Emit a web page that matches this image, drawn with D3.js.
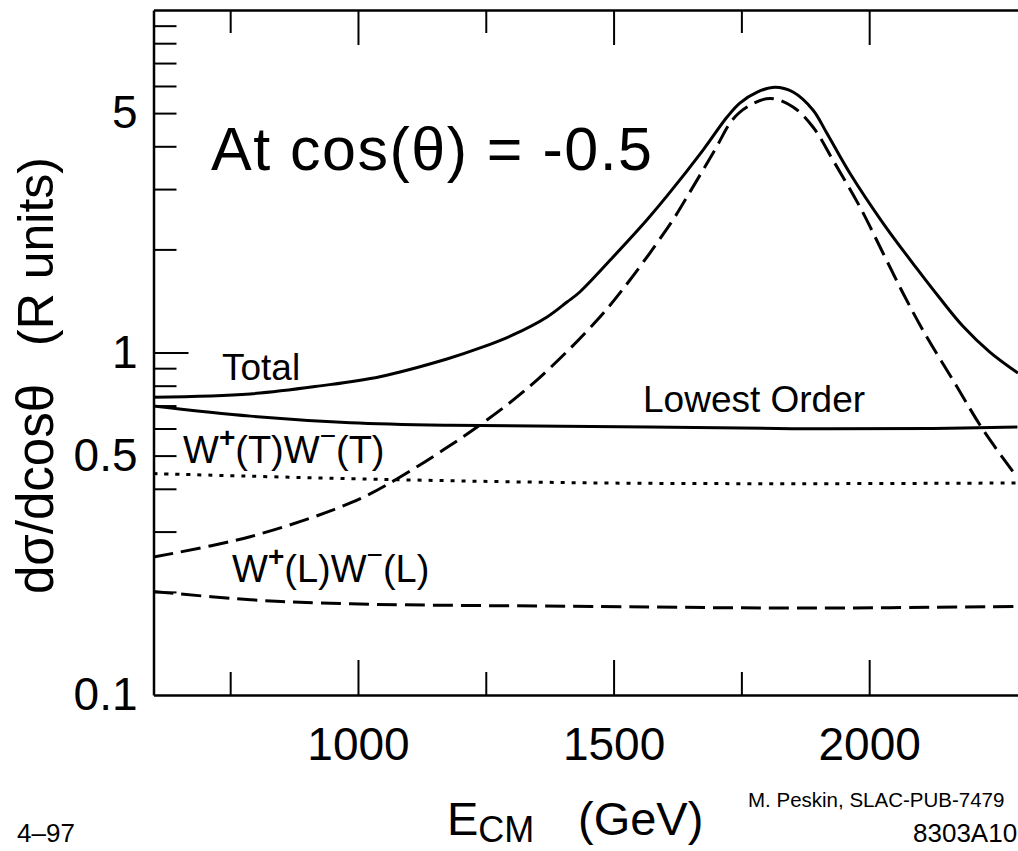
<!DOCTYPE html>
<html>
<head>
<meta charset="utf-8">
<script src="https://cdn.jsdelivr.net/npm/d3@7"></script>
<style>
  body { margin: 0; background: #fff; }
  svg { display: block; font-family: "Liberation Sans", Arial, Helvetica, sans-serif; }
</style>
</head>
<body>
<div id="chart"></div>
<script>
// Curves (E in GeV, dsigma/dcos in R units)
const totalE = [600, 789, 926, 1043, 1174, 1239, 1303, 1370, 1409, 1434, 1499, 1565, 1605, 1675, 1722, 1747, 1781, 1816, 1851, 1890, 1917, 1962, 2027, 2093, 2138, 2183, 2236, 2291];
const totalV = [0.740, 0.757, 0.799, 0.850, 0.957, 1.031, 1.125, 1.270, 1.404, 1.502, 1.900, 2.437, 2.87, 3.90, 4.87, 5.35, 5.76, 5.95, 5.76, 5.105, 4.375, 3.343, 2.388, 1.76, 1.442, 1.195, 1.003, 0.871];

const lowestE = [600, 790, 985, 1180, 1570, 1865, 2125, 2290];
const lowestV = [0.698, 0.652, 0.624, 0.613, 0.606, 0.599, 0.600, 0.606];

const ttE = [600, 1050, 1475, 1865, 2290];
const ttV = [0.443, 0.426, 0.416, 0.414, 0.416];

// W+(L)W-(L) with the resonance
const llPeakE = [600, 789, 984, 1076, 1244, 1350, 1468, 1532, 1616, 1640, 1698, 1732, 1761, 1806, 1851, 1890, 1929, 1982, 2027, 2066, 2105, 2172, 2223, 2289];
const llPeakV = [0.2529, 0.2899, 0.363, 0.4273, 0.6226, 0.8311, 1.244, 1.628, 2.437, 2.788, 3.90, 4.77, 5.21, 5.52, 5.21, 4.555, 3.648, 2.66, 1.952, 1.492, 1.163, 0.793, 0.594, 0.433];

// W+(L)W-(L) lowest order
const llLowE = [600, 790, 985, 1475, 1865, 2290];
const llLowV = [0.2005, 0.1897, 0.1846, 0.1813, 0.1794, 0.1813];

const xMajorTicks = [1000, 1500, 2000];
const xMinorTicks = [750, 1250, 1750];
const yMajorTicks = [1];
const yMinorTicks = [0.2, 0.3, 0.4, 0.5, 0.6, 0.7, 0.8, 0.9, 2, 3, 4, 5, 6, 7, 8, 9];
const yLabelTicks = [0.1, 0.5, 1, 5];
const yLabelText = ["0.1", "0.5", "1", "5"];

const width = 1018;
const height = 851;
const plotLeft = 153.5;
const plotTop = 10;
const plotBottom = 695;

const svg = d3
  .select("#chart")
  .append("svg")
  .attr("width", width)
  .attr("height", height);

svg.append("rect").attr("width", width).attr("height", height).attr("fill", "#fff");

const x = d3.scaleLinear().domain([600, 2300]).range([plotLeft, plotLeft + 1700 * 0.5112]);
const y = d3.scaleLog().domain([0.1, 10]).range([plotBottom, plotTop]);

const axisStyle = (g) => {
  g.selectAll("path").attr("stroke", "#000").attr("stroke-width", 2.5);
  g.selectAll("line").attr("stroke", "#000").attr("stroke-width", 2);
  g.attr("font-family", null).attr("font-size", 46).selectAll("text").attr("fill", "#000");
};

// Bottom axis: major ticks with labels, minor ticks without
svg
  .append("g")
  .attr("transform", `translate(0,${plotBottom})`)
  .call(d3.axisBottom(x).tickValues(xMajorTicks).tickSize(-35).tickSizeOuter(0).tickPadding(32).tickFormat(d3.format("d")))
  .call(axisStyle);

svg
  .append("g")
  .attr("transform", `translate(0,${plotBottom})`)
  .call(d3.axisBottom(x).tickValues(xMinorTicks).tickSize(-23).tickFormat(""))
  .call(axisStyle)
  .call((g) => g.select(".domain").remove());

// Top frame with inward ticks
svg
  .append("g")
  .attr("transform", `translate(0,${plotTop})`)
  .call(d3.axisTop(x).tickValues(xMajorTicks).tickSize(-35).tickSizeOuter(0).tickFormat(""))
  .call(axisStyle);

svg
  .append("g")
  .attr("transform", `translate(0,${plotTop})`)
  .call(d3.axisTop(x).tickValues(xMinorTicks).tickSize(-23).tickFormat(""))
  .call(axisStyle)
  .call((g) => g.select(".domain").remove());

// Left axis
svg
  .append("g")
  .attr("transform", `translate(${plotLeft},0)`)
  .call(d3.axisLeft(y).tickValues(yMajorTicks).tickSize(-35).tickSizeOuter(0).tickFormat(""))
  .call(axisStyle);

svg
  .append("g")
  .attr("transform", `translate(${plotLeft},0)`)
  .call(d3.axisLeft(y).tickValues(yMinorTicks).tickSize(-23).tickFormat(""))
  .call(axisStyle)
  .call((g) => g.select(".domain").remove());

svg
  .append("g")
  .attr("transform", `translate(${plotLeft},0)`)
  .call(d3.axisLeft(y).tickValues(yLabelTicks).tickSize(0).tickPadding(16).tickFormat((d, i) => yLabelText[i]))
  .call(axisStyle)
  .call((g) => g.select(".domain").remove());

// Curves
const line = d3
  .line()
  .x((d) => x(d[0]))
  .y((d) => y(d[1]))
  .curve(d3.curveCatmullRom.alpha(0.5));

const curves = [
  { e: totalE, v: totalV, dash: null },
  { e: lowestE, v: lowestV, dash: null },
  { e: ttE, v: ttV, dash: "4,7" },
  { e: llPeakE, v: llPeakV, dash: "20,8" },
  { e: llLowE, v: llLowV, dash: "20,8" },
];

svg
  .append("defs")
  .append("clipPath")
  .attr("id", "clip")
  .append("rect")
  .attr("x", plotLeft)
  .attr("y", plotTop)
  .attr("width", width - plotLeft)
  .attr("height", plotBottom - plotTop);

svg
  .append("g")
  .attr("clip-path", "url(#clip)")
  .selectAll(".curve")
  .data(curves)
  .enter()
  .append("path")
  .attr("class", "curve")
  .attr("d", (c) => line(c.e.map((e, i) => [e, c.v[i]])))
  .attr("fill", "none")
  .attr("stroke", "#000")
  .attr("stroke-width", 3)
  .attr("stroke-dasharray", (c) => c.dash);

// Labels
const addText = (txt, px, py, size) =>
  svg.append("text").attr("x", px).attr("y", py).attr("font-size", size).attr("fill", "#000").text(txt);

addText("At cos(θ) = -0.5", 211, 170, 61).attr("textLength", 441).attr("lengthAdjust", "spacing");
addText("Total", 222, 380, 37);
addText("Lowest Order", 643, 412, 37);

const wLabel = (kind, px, py) => {
  const t = svg.append("text").attr("x", px).attr("y", py).attr("font-size", 38).attr("fill", "#000");
  t.append("tspan").text("W");
  t.append("tspan").attr("dy", -16).attr("font-size", 28).attr("font-weight", "bold").text("+");
  t.append("tspan").attr("dy", 16).text(`(${kind})W`);
  t.append("tspan").attr("dy", -18).attr("font-size", 28).text("−");
  t.append("tspan").attr("dy", 18).text(`(${kind})`);
};
wLabel("T", 183, 463);
wLabel("L", 232, 582);

// Axis titles
const xTitle = svg.append("text").attr("x", 447).attr("y", 835).attr("font-size", 47).attr("fill", "#000");
xTitle.append("tspan").text("E");
xTitle.append("tspan").attr("dy", 7).attr("font-size", 36).text("CM");
xTitle.append("tspan").attr("x", 578).attr("dy", -7).text("(GeV)");

svg
  .append("text")
  .attr("transform", "translate(53,594) rotate(-90)")
  .attr("font-size", 51)
  .attr("fill", "#000")
  .text("dσ/dcosθ");

svg
  .append("text")
  .attr("transform", "translate(53,157) rotate(-90)")
  .attr("text-anchor", "end")
  .attr("font-size", 50)
  .attr("fill", "#000")
  .text("(R units)");

// Credits
addText("M. Peskin, SLAC-PUB-7479", 748, 807, 20.5);
addText("8303A10", 913, 842, 26);
addText("4–97", 17, 842, 26);
</script>
</body>
</html>
